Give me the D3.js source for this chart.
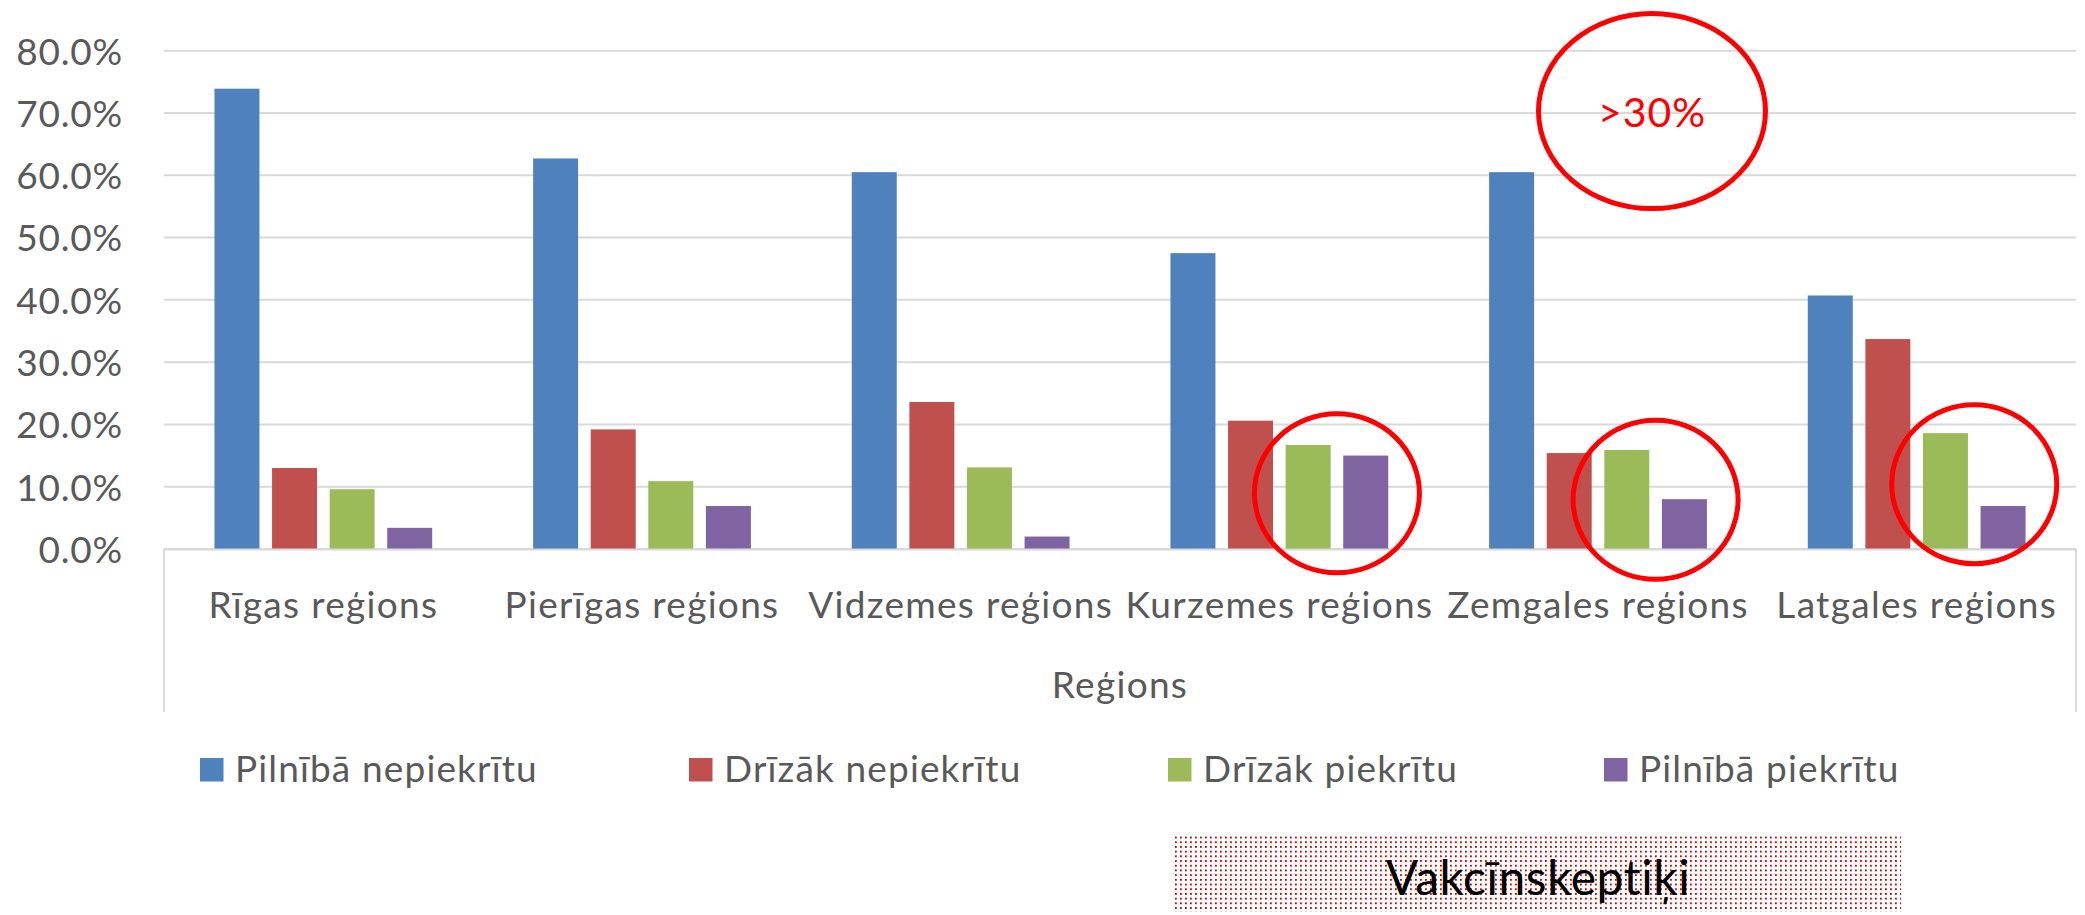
<!DOCTYPE html>
<html><head><meta charset="utf-8">
<script src="https://cdn.jsdelivr.net/npm/d3@7"></script>
<style>body{margin:0;background:#fff}svg text{font-family:Lato,"Open Sans",sans-serif}</style>
</head><body><svg id="c" width="2085" height="915"></svg>
<script>
// ---- data ----
const categories = ["Rīgas reģions","Pierīgas reģions","Vidzemes reģions","Kurzemes reģions","Zemgales reģions","Latgales reģions"];
const seriesNames = ["Pilnībā nepiekrītu","Drīzāk nepiekrītu","Drīzāk piekrītu","Pilnībā piekrītu"];
const pilnibaNepiekritu = [0.739,0.627,0.605,0.475,0.605,0.407];
const drizakNepiekritu  = [0.130,0.192,0.236,0.206,0.154,0.337];
const drizakPiekritu    = [0.096,0.109,0.131,0.167,0.159,0.186];
const pilnibaPiekritu   = [0.034,0.069,0.020,0.150,0.080,0.069];
const yTicks = [0,0.1,0.2,0.3,0.4,0.5,0.6,0.7,0.8];
const axisTitle = "Reģions";
const calloutText = ">30%";
const boxText = "Vakcīnskeptiķi";
// annotation ellipses: category, value at centre
const ringCats = ["Kurzemes reģions","Zemgales reģions","Latgales reģions"];
const ringValues = [0.0894,0.079,0.104];

// ---- styles / layout ----
const colors = ["#4F81BD","#C0504D","#9BBB59","#8064A2"];
const textCol = "#595959", gridCol = "#D9D9D9";
const L = 164, R = 2076, T = 50.7, B = 549;

const svg = d3.select("#c");
svg.append("rect").attr("width",2085).attr("height",915).attr("fill","#fff");
const defs = svg.append("defs");
const pat = defs.append("pattern").attr("id","dots").attr("patternUnits","userSpaceOnUse")
  .attr("width",5).attr("height",4.7);
pat.append("rect").attr("width",5).attr("height",4.7).attr("fill","#fff");
pat.append("rect").attr("width",1.8).attr("height",1.8).attr("fill","#C00000");

const series = [pilnibaNepiekritu,drizakNepiekritu,drizakPiekritu,pilnibaPiekritu];

const y = d3.scaleLinear().domain([0,0.8]).range([B,T]);
const x0 = d3.scaleBand().domain(categories).range([L,R]).padding(0);
const x1 = d3.scaleBand().domain(seriesNames).range([0,x0.bandwidth()])
  .paddingInner(0.219).paddingOuter(0.876);

// gridlines
svg.append("g").selectAll("line").data(yTicks).join("line")
  .attr("x1",L).attr("x2",R).attr("y1",d=>y(d)).attr("y2",d=>y(d))
  .attr("stroke",gridCol).attr("stroke-width",2);

// y axis labels
const yAxis = d3.axisLeft(y).tickValues(yTicks).tickFormat(d3.format(".1%")).tickSize(0).tickPadding(0);
const gy = svg.append("g").attr("transform",`translate(123,0)`).call(yAxis);
gy.select(".domain").remove();
gy.selectAll("text").attr("fill",textCol).style("font-size","37px").attr("dy","0.36em")
  .style("font-family","Lato").style("letter-spacing","0.8px");

// category axis box lines
svg.append("line").attr("x1",L).attr("x2",L).attr("y1",B).attr("y2",712).attr("stroke",gridCol).attr("stroke-width",2);
svg.append("line").attr("x1",R).attr("x2",R).attr("y1",B).attr("y2",712).attr("stroke",gridCol).attr("stroke-width",2);

// bars
series.forEach((vals,si)=>{
  svg.append("g").selectAll("rect").data(vals).join("rect")
    .attr("x",(d,i)=>x0(categories[i])+x1(seriesNames[si]))
    .attr("width",x1.bandwidth())
    .attr("y",d=>y(d)).attr("height",d=>B-y(d))
    .attr("fill",colors[si]);
});

// category labels
const xAxis = d3.axisBottom(x0).tickSize(0).tickPadding(0);
const gx = svg.append("g").attr("transform",`translate(0,${B})`).call(xAxis);
gx.select(".domain").attr("stroke",gridCol).attr("stroke-width",2);
gx.selectAll("text").attr("fill",textCol).style("font-size","37px").attr("y",69).attr("dy",0)
  .style("font-family","Lato").style("letter-spacing","1.3px");

// axis title
svg.append("text").attr("x",(L+R)/2).attr("y",698).attr("text-anchor","middle")
  .attr("fill",textCol).style("font-size","37px").style("letter-spacing","1.3px").text(axisTitle);

// legend
const legendX = [200,689,1168,1604];
const lg = svg.append("g");
seriesNames.forEach((n,i)=>{
  lg.append("rect").attr("x",legendX[i]).attr("y",758).attr("width",23.5).attr("height",23.5).attr("fill",colors[i]);
  lg.append("text").attr("x",legendX[i]+35).attr("y",781.5).attr("fill",textCol).style("font-size","37px")
    .style("letter-spacing","1.15px").text(n);
});

// rings around green+purple bars
ringCats.forEach((c,i)=>{
  const cx = x0(c) + (x1(seriesNames[2]) + x1(seriesNames[3]) + x1.bandwidth())/2;
  svg.append("ellipse").attr("cx",cx).attr("cy",y(ringValues[i])).attr("rx",82.5).attr("ry",79.5)
    .attr("fill","none").attr("stroke","#FF0000").attr("stroke-width",5);
});

// >30% callout
const zc = x0("Zemgales reģions") + (x1(seriesNames[2]) + x1(seriesNames[3]) + x1.bandwidth())/2 - 3.6;
svg.append("ellipse").attr("cx",zc).attr("cy",y(0.703)).attr("rx",113.5).attr("ry",97.5)
  .attr("fill","none").attr("stroke","#FF0000").attr("stroke-width",5);
svg.append("text").attr("x",zc).attr("y",126.5).attr("text-anchor","middle").attr("fill","#FF0000")
  .style("font-size","41px").style("letter-spacing","1px").text(calloutText);

// Vakcīnskeptiķi box
svg.append("rect").attr("x",1175).attr("y",835).attr("width",726).attr("height",77).attr("fill","url(#dots)");
svg.append("text").attr("x",1538).attr("y",895).attr("text-anchor","middle").attr("fill","#000")
  .style("font-size","48px").style("letter-spacing","0.5px").text(boxText);
</script></body></html>
